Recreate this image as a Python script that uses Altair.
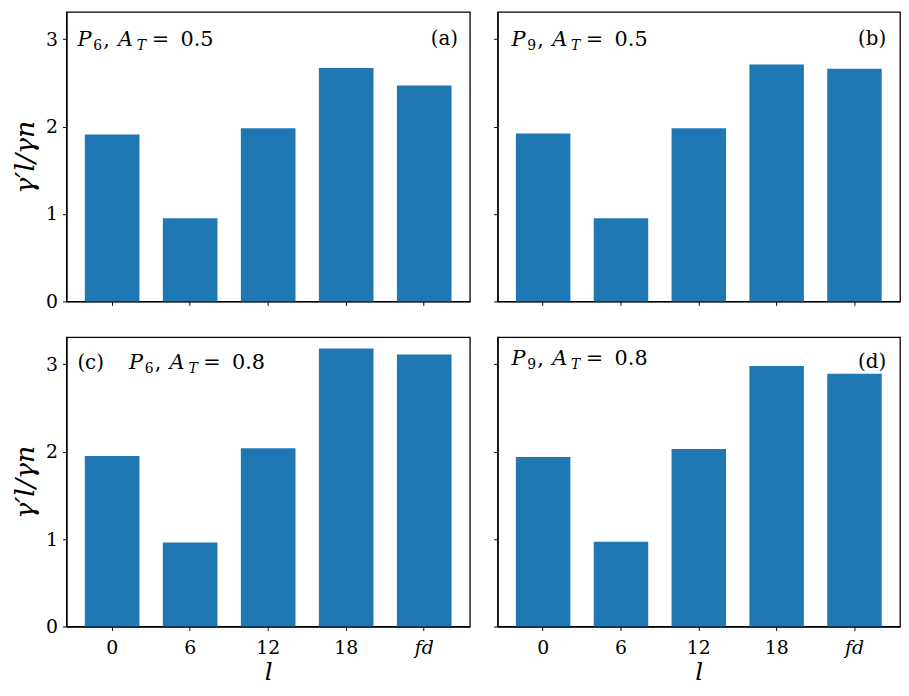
import altair as alt
import pandas as pd

categories = ["0", "6", "12", "18", "fd"]
p6_a05 = [1.91, 0.95, 1.98, 2.67, 2.47]
p9_a05 = [1.92, 0.95, 1.98, 2.71, 2.66]
p6_a08 = [1.95, 0.96, 2.04, 3.18, 3.11]
p9_a08 = [1.94, 0.97, 2.03, 2.98, 2.89]

panel_tags = ["(a)", "(b)", "(c)", "(d)"]
subscripts = ["6", "9", "6", "9"]
at_values = ["0.5", "0.5", "0.8", "0.8"]
y_ticks = [0, 1, 2, 3]

FONT = "DejaVu Serif"
BLUE = "#1f77b4"
YMAX = 3.31
W_L, W_R, H = 407, 406, 292


def txt(s, x, y, size, style="normal", align="left"):
    return alt.Chart(pd.DataFrame({"t": [s]})).mark_text(
        font=FONT, fontSize=size, fontStyle=style, align=align,
        baseline="alphabetic", color="black"
    ).encode(text="t:N", x=alt.value(x), y=alt.value(y))


def annotation(sub, atv, x0, y0):
    return [
        txt("P", x0, y0, 21, "italic"),
        txt(sub, x0 + 16, y0 + 4, 14),
        txt(",", x0 + 26, y0, 21),
        txt("A", x0 + 41, y0, 21, "italic"),
        txt("T", x0 + 60, y0 + 4, 14, "italic"),
        txt("=", x0 + 75, y0, 21),
        txt(atv, x0 + 104, y0, 21),
    ]


def panel(values, idx, width, left, bottom):
    df = pd.DataFrame({"l": categories, "v": values})
    xkw = dict(labels=bottom, ticks=True, tickSize=4, labelAngle=0,
               labelPadding=8,
               labelFontStyle=alt.expr("datum.value == 'fd' ? 'italic' : 'normal'"))
    if bottom:
        xkw["title"] = "l"
        xkw["titleFontStyle"] = "italic"
        xkw["titlePadding"] = 2
    else:
        xkw["title"] = None
    ykw = dict(labels=left, values=y_ticks, tickSize=4, labelPadding=5)
    if left:
        ykw["title"] = "γ′l/γn"
        ykw["titleFontStyle"] = "italic"
        ykw["titlePadding"] = 6
        ykw["titleFontSize"] = 27
    else:
        ykw["title"] = None
    bars = alt.Chart(df).mark_bar(color=BLUE).encode(
        x=alt.X("l:N", sort=categories,
                scale=alt.Scale(paddingInner=0.3, paddingOuter=0.235),
                axis=alt.Axis(**xkw)),
        y=alt.Y("v:Q", scale=alt.Scale(domain=[0, YMAX], nice=False),
                axis=alt.Axis(**ykw)),
    )
    layers = [bars]
    if idx == 0:
        layers += annotation(subscripts[0], at_values[0], 11, 34)
        layers.append(txt(panel_tags[0], width - 12, 33, 20, align="right"))
    elif idx == 1:
        layers += annotation(subscripts[1], at_values[1], 14, 34)
        layers.append(txt(panel_tags[1], width - 14, 33, 20, align="right"))
    elif idx == 2:
        layers.append(txt(panel_tags[2], 11, 32, 20))
        layers += annotation(subscripts[2], at_values[2], 63, 32)
    else:
        layers += annotation(subscripts[3], at_values[3], 14, 28)
        layers.append(txt(panel_tags[3], width - 14, 31, 20, align="right"))
    return alt.layer(*layers).properties(width=width, height=H)


top = alt.hconcat(panel(p6_a05, 0, W_L, True, False),
                  panel(p9_a05, 1, W_R, False, False), spacing=21)
bot = alt.hconcat(panel(p6_a08, 2, W_L, True, True),
                  panel(p9_a08, 3, W_R, False, True), spacing=21)

chart = alt.vconcat(top, bot, spacing=24).configure(
    padding={"left": 3, "top": 0, "right": 0, "bottom": 0}
).configure_view(
    stroke="black", strokeWidth=1.3
).configure_axis(
    grid=False, domainColor="black", domainWidth=1.3, tickColor="black",
    tickWidth=1, labelFont=FONT, labelFontSize=19, labelColor="black",
    titleFont=FONT, titleFontSize=25, titleColor="black", titleFontWeight="normal",
)

chart.save("out.html", embed_options={"renderer": "svg", "actions": False})
